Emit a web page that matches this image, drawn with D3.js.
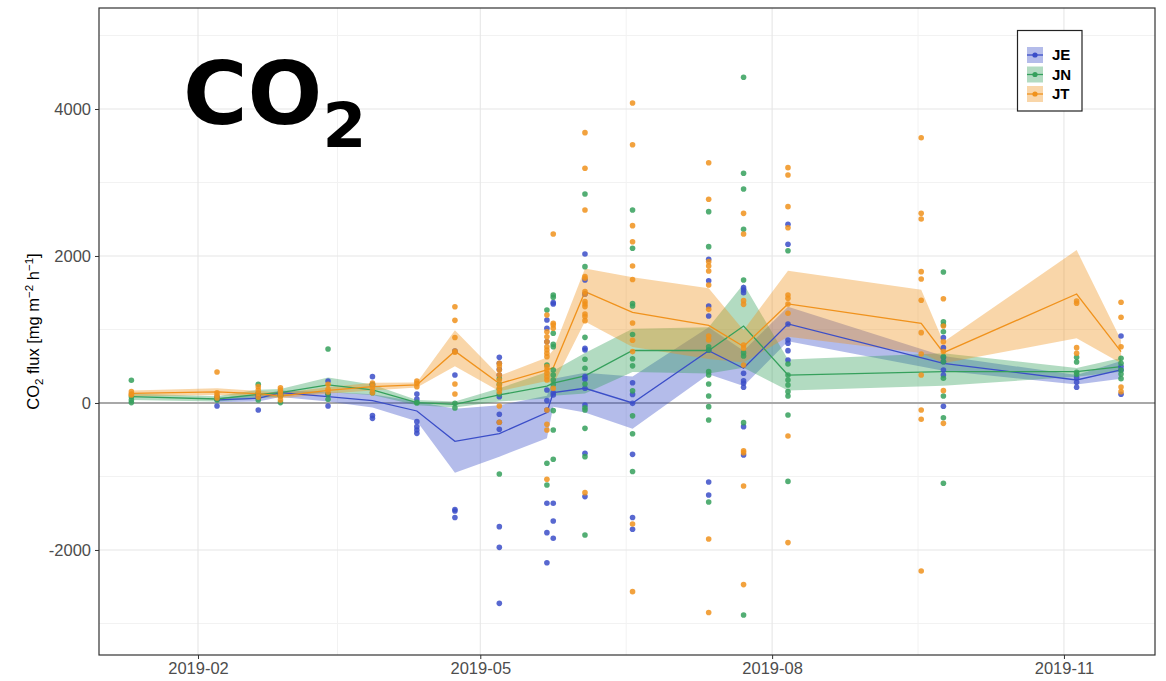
<!DOCTYPE html>
<html>
<head>
<meta charset="utf-8">
<script src="https://cdnjs.cloudflare.com/ajax/libs/d3/7.8.5/d3.min.js"></script>
<style>
  html, body { margin: 0; padding: 0; background: #ffffff; }
  svg { display: block; }
</style>
</head>
<body>
<svg id="chart" width="1166" height="681"></svg>
<script>
// ---------------- DATA ----------------
const seriesNames = ["JE", "JN", "JT"];
const seriesColors = ["#3b4ec8", "#35a05c", "#f0921c"];

const xTickDates = ["2019-02-01", "2019-05-01", "2019-08-01", "2019-11-01"];
const xTickLabels = ["2019-02", "2019-05", "2019-08", "2019-11"];
const xMinorDates = ["2019-03-17", "2019-06-16", "2019-09-16"];
const yTicks = [-2000, 0, 2000, 4000];
const yTickLabels = ["-2000", "0", "2000", "4000"];
const yMinor = [-3000, -1000, 1000, 3000, 5000];

// JE
const jeDates = ["2019-02-07","2019-02-20","2019-02-27","2019-03-14","2019-03-28","2019-04-11","2019-04-23","2019-05-07","2019-05-22","2019-05-24","2019-06-03","2019-06-18","2019-07-12","2019-07-23","2019-08-06","2019-09-24","2019-11-05","2019-11-19"];
const jeMean  = [41, 63, 140, 86, 32, -109, -522, -416, -130, 140, 200, 0, 712, 472, 1075, 540, 313, 449];
const jeLow   = [10, 20, 80, 20, -60, -250, -950, -730, -480, -50, -130, -350, 390, 230, 840, 440, 250, 330];
const jeHigh  = [70, 110, 170, 150, 120, 20, -80, -30, 100, 330, 410, 360, 1030, 710, 1310, 640, 380, 570];
const jePoints = [
  [-41, 50, 80],
  [-95, 100, 80],
  [130, 110],
  [299, 122, -41],
  [358, 250, -172, -209],
  [122, 54, -254, -322, -367, -413],
  [705, 381, -1450, -1470, -1558],
  [622, 540, 458, 381, 86, -154, -263, -358, -1683, -1964, -2726],
  [1129, 1016, 834, 177, 32, -95, -1365, -1764, -2173],
  [1365, 1347, 140, 109, -1365, -1605, -1841],
  [2027, 1673, 1483, 744, 721, 358, 322, 200, -27, -685, -1274],
  [276, 117, -5, -699, -1558, -1718],
  [1955, 1664, 1320, 1184, 718, -1075, -1252],
  [1569, 1537, 1501, 404, 303, 268, 213, -322, -707],
  [2431, 2159, 1075, 857, 812, 712, 585],
  [889, 753, 620, 560, 449, 381, -45],
  [345, 281, 213],
  [911, 494, 449, 118]
];

// JN
const jnDates = ["2019-01-11","2019-02-07","2019-02-20","2019-02-27","2019-03-14","2019-03-28","2019-04-11","2019-04-23","2019-05-07","2019-05-22","2019-05-24","2019-06-03","2019-06-18","2019-07-12","2019-07-23","2019-08-06","2019-09-24","2019-11-05","2019-11-19"];
const jnMean  = [86, 54, 118, 140, 245, 177, 5, -20, 109, 230, 270, 370, 714, 714, 1047, 380, 426, 426, 494];
const jnLow   = [40, 20, 60, 90, 145, 110, -30, -60, 20, 60, 100, 130, 420, 400, 480, 170, 234, 358, 426];
const jnHigh  = [130, 90, 180, 190, 345, 250, 40, 20, 200, 420, 440, 680, 1010, 1030, 1620, 590, 676, 476, 612];
const jnPoints = [
  [309, 86, 5, 40],
  [40, 60],
  [254, 130, 40],
  [150, 100, 5],
  [735, 120, 50],
  [250, 140],
  [0, 10],
  [-3, -67],
  [-966, 330, 250, 190, 120],
  [1265, 517, -820, -1116],
  [1469, 1438, 948, 798, 766, 449, 381, 313, 250, -104, -367, -766],
  [2844, 1855, 893, 594, 472, 259, -64, -95, -345, -730, -1796],
  [2626, 2106, 1354, 1320, 932, 601, 505, 165, -175, -418, -932],
  [2603, 2127, 766, 721, 426, 381, 259, 95, -50, -231, -1347],
  [4431, 3125, 2912, 2363, 1673, 685, 639, -268, -2884],
  [2072, 531, 381, 313, 245, 154, 95, -163, -1067],
  [1782, 1106, 1061, 970, 630, 560, 336, 95, -200, -1093],
  [621, 558, 417, 390],
  [608, 540, 449, 395, 331]
];

// JT
const jtDates = ["2019-01-11","2019-02-07","2019-02-20","2019-02-27","2019-03-14","2019-03-28","2019-04-11","2019-04-23","2019-05-07","2019-05-22","2019-05-24","2019-06-03","2019-06-18","2019-07-12","2019-07-23","2019-08-06","2019-09-17","2019-09-24","2019-11-05","2019-11-19"];
const jtMean  = [131, 150, 127, 95, 172, 222, 245, 705, 264, 450, 480, 1515, 1233, 1056, 768, 1347, 1084, 685, 1483, 698];
const jtLow   = [90, 110, 90, 60, 130, 170, 210, 500, 160, 300, 250, 1110, 760, 600, 550, 900, 680, 540, 880, 540];
const jtHigh  = [170, 200, 165, 135, 215, 275, 280, 990, 370, 620, 720, 1830, 1710, 1560, 990, 1800, 1540, 830, 2080, 857];
const jtPoints = [
  [154, 122, 110],
  [422, 140, 104, 68],
  [222, 177, 132, 80],
  [208, 177, 140, 95, 40],
  [254, 186, 150],
  [270, 227, 190, 140],
  [299, 268, 222],
  [1309, 1124, 891, 705, 690, 258, 122],
  [540, 503, 449, 381, 313, 245, 200, 154, -41, -263],
  [1197, 970, 902, 834, 766, 721, 676, 630, 494, 449, 404, 358, 313, -95, -290, -367, -1038],
  [2299, 1084, 1061, 1016, 200],
  [3678, 3193, 2626, 1719, 1696, 1515, 1483, 1379, 1347, 1311, 1211, 1175, 1120, -1220],
  [4082, 3514, 2413, 2193, 1864, 1679, 1088, 854, 699, -1646, -2567],
  [3269, 2771, 1923, 1864, 1796, 1605, 1274, 912, 857, -1850, -2850],
  [2580, 2299, 1392, 1342, 789, 744, 517, -649, -676, -1130, -2471],
  [3202, 3102, 2671, 2385, 1469, 1424, 1347, 1220, -449, -1900],
  [3608, 2580, 2503, 1787, 1687, 1397, 957, 667, 381, -95, -222, -2286],
  [1419, 1048, 834, 700, 168, -277],
  [1388, 1356, 753, 676],
  [1370, 1166, 766, 218, 154]
];

// ---------------- BUILD ----------------
const parse = d3.utcParse("%Y-%m-%d");
function build(dates, mean, low, high, pts) {
  return dates.map((d, i) => ({ date: parse(d), mean: mean[i], low: low[i], high: high[i], pts: pts[i] }));
}
const series = [
  build(jeDates, jeMean, jeLow, jeHigh, jePoints),
  build(jnDates, jnMean, jnLow, jnHigh, jnPoints),
  build(jtDates, jtMean, jtLow, jtHigh, jtPoints)
];

const svg = d3.select("#chart");
const panel = { left: 99, right: 1155, top: 8, bottom: 655 };

const x = d3.scaleUtc()
  .domain([new Date(Date.UTC(2018, 11, 31, 19)), new Date(Date.UTC(2019, 10, 29, 17))])
  .range([panel.left, panel.right]);
const y = d3.scaleLinear()
  .domain([-3429, 5374])
  .range([panel.bottom, panel.top]);

const FONT = "'Liberation Sans', Arial, Helvetica, sans-serif";

svg.append("rect").attr("x", panel.left).attr("y", panel.top)
  .attr("width", panel.right - panel.left).attr("height", panel.bottom - panel.top)
  .attr("fill", "#ffffff");

const grid = svg.append("g");
grid.selectAll("line.ymin").data(yMinor).enter().append("line")
  .attr("x1", panel.left).attr("x2", panel.right)
  .attr("y1", d => y(d)).attr("y2", d => y(d))
  .attr("stroke", "#f2f2f2").attr("stroke-width", 1);
grid.selectAll("line.xmin").data(xMinorDates).enter().append("line")
  .attr("y1", panel.top).attr("y2", panel.bottom)
  .attr("x1", d => x(parse(d))).attr("x2", d => x(parse(d)))
  .attr("stroke", "#f2f2f2").attr("stroke-width", 1);
grid.selectAll("line.ymaj").data(yTicks).enter().append("line")
  .attr("x1", panel.left).attr("x2", panel.right)
  .attr("y1", d => y(d)).attr("y2", d => y(d))
  .attr("stroke", "#e6e6e6").attr("stroke-width", 1.1);
grid.selectAll("line.xmaj").data(xTickDates).enter().append("line")
  .attr("y1", panel.top).attr("y2", panel.bottom)
  .attr("x1", d => x(parse(d))).attr("x2", d => x(parse(d)))
  .attr("stroke", "#e6e6e6").attr("stroke-width", 1.1);

svg.append("line").attr("x1", panel.left).attr("x2", panel.right)
  .attr("y1", y(0)).attr("y2", y(0))
  .attr("stroke", "#a8a8a8").attr("stroke-width", 2.2);

const area = d3.area().x(d => x(d.date)).y0(d => y(d.low)).y1(d => y(d.high));
series.forEach((s, i) => {
  svg.append("path").datum(s).attr("d", area)
    .attr("fill", seriesColors[i]).attr("fill-opacity", 0.38).attr("stroke", "none");
});
const line = d3.line().x(d => x(d.date)).y(d => y(d.mean));
series.forEach((s, i) => {
  svg.append("path").datum(s).attr("d", line)
    .attr("fill", "none").attr("stroke", seriesColors[i]).attr("stroke-width", 1.3);
});
series.forEach((s, i) => {
  const flat = [];
  s.forEach(d => d.pts.forEach(v => flat.push({ date: d.date, v })));
  svg.append("g").selectAll("circle").data(flat).enter().append("circle")
    .attr("cx", d => x(d.date)).attr("cy", d => y(d.v)).attr("r", 2.8)
    .attr("fill", seriesColors[i]).attr("fill-opacity", 0.85);
});

svg.append("rect").attr("x", panel.left).attr("y", panel.top)
  .attr("width", panel.right - panel.left).attr("height", panel.bottom - panel.top)
  .attr("fill", "none").attr("stroke", "#333333").attr("stroke-width", 1.2);

const yAxis = d3.axisLeft(y).tickValues(yTicks).tickSize(4).tickPadding(4)
  .tickFormat((d, i) => yTickLabels[i]);
const gy = svg.append("g").attr("transform", `translate(${panel.left},0)`).call(yAxis);
gy.select(".domain").remove();
gy.selectAll(".tick line").attr("stroke", "#333333");
gy.selectAll(".tick text").attr("font-family", FONT).attr("font-size", 16.5).attr("fill", "#4d4d4d");

const xAxis = d3.axisBottom(x).tickValues(xTickDates.map(parse)).tickSize(4).tickPadding(3)
  .tickFormat((d, i) => xTickLabels[i]);
const gx = svg.append("g").attr("transform", `translate(0,${panel.bottom})`).call(xAxis);
gx.select(".domain").remove();
gx.selectAll(".tick line").attr("stroke", "#333333");
gx.selectAll(".tick text").attr("font-family", FONT).attr("font-size", 16.5).attr("fill", "#4d4d4d");

const yt = svg.append("text")
  .attr("transform", `translate(39,${(panel.top + panel.bottom) / 2}) rotate(-90)`)
  .attr("text-anchor", "middle").attr("font-family", FONT).attr("font-size", 16.5).attr("fill", "#000");
yt.append("tspan").text("CO");
yt.append("tspan").text("2").attr("font-size", 11.5).attr("dy", 4);
yt.append("tspan").text(" flux [mg m").attr("dy", -4);
yt.append("tspan").text("\u22122").attr("font-size", 11.5).attr("dy", -6);
yt.append("tspan").text(" h").attr("dy", 6);
yt.append("tspan").text("\u22121").attr("font-size", 11.5).attr("dy", -6);
yt.append("tspan").text("]").attr("dy", 6);

const title = svg.append("text").attr("x", 183).attr("y", 124)
  .attr("font-family", "'DejaVu Sans', Verdana, sans-serif").attr("font-weight", "bold")
  .attr("font-size", 88).attr("fill", "#000");
title.append("tspan").text("CO");
title.append("tspan").text("2").attr("font-size", 63).attr("dy", 23);

const lg = svg.append("g");
lg.append("rect").attr("x", 1017.5).attr("y", 30.5).attr("width", 64.5).attr("height", 80.5)
  .attr("fill", "#ffffff").attr("stroke", "#222222").attr("stroke-width", 1.2);
seriesNames.forEach((name, i) => {
  const ky = 47 + i * 19.5;
  lg.append("rect").attr("x", 1027).attr("y", ky).attr("width", 16).attr("height", 16)
    .attr("fill", seriesColors[i]).attr("fill-opacity", 0.38);
  lg.append("line").attr("x1", 1027).attr("x2", 1043).attr("y1", ky + 8).attr("y2", ky + 8)
    .attr("stroke", seriesColors[i]).attr("stroke-width", 1.3);
  lg.append("circle").attr("cx", 1035).attr("cy", ky + 8).attr("r", 2.6).attr("fill", seriesColors[i]);
  lg.append("text").attr("x", 1052).attr("y", ky + 8).attr("dy", "0.36em")
    .attr("font-family", FONT).attr("font-weight", "bold").attr("font-size", 15).attr("fill", "#000")
    .text(name);
});
</script>
</body>
</html>
